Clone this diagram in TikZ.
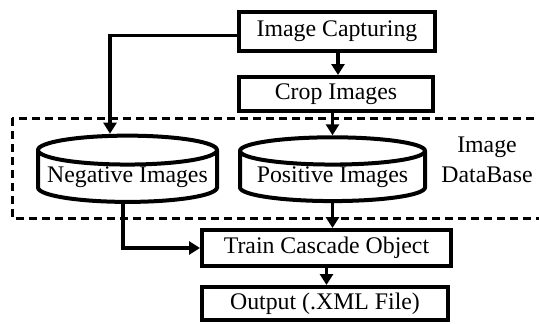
\documentclass[tikz,border=0pt]{standalone}
\usepackage{fontspec}
\setmainfont{Liberation Serif}
\usetikzlibrary{arrows.meta,shapes.geometric}

\begin{document}
\begin{tikzpicture}[
    x=1pt,
    y=-1pt,
    font=\fontsize{23.8}{30}\selectfont,
    box/.style={draw,line width=4pt,inner sep=0pt},
    db/.style={cylinder,shape border rotate=90,aspect=0.18,draw,line width=4pt,
      minimum width=179pt,minimum height=62pt,inner sep=0pt},
    flow/.style={line width=3.5pt,-{Triangle[length=11pt,width=13pt]}},
    frame/.style={line width=3pt,dash pattern=on 8pt off 5pt},
  ]
  \path[use as bounding box,clip] (0,0) rectangle (539,324);
  \node[box,minimum width=196pt,minimum height=39pt] (capture) at (337,31.5) {Image Capturing};
  \node[box,minimum width=194pt,minimum height=34pt] (crop) at (336,94) {Crop Images};
  \node[db] (neg) at (127.5,177) {Negative Images};
  \node[db,minimum width=185pt] (pos) at (332.5,177) {Positive Images};
  \node[align=center] (base) at (487,160) {Image\\DataBase};
  \node[box,minimum width=249pt,minimum height=36pt] (train) at (326.5,248) {Train Cascade Object};
  \node[box,minimum width=246pt,minimum height=33pt] (output) at (325,303.5) {Output (.XML File)};
  \draw[frame] (12,118) rectangle (550,218);
  \draw[flow] ([yshift=-4pt]capture.west) -| ([xshift=-17.5pt]neg.north);
  \draw[flow] ([xshift=1pt]capture.south) -- ([xshift=2pt]crop.north);
  \draw[flow] (crop.south -| pos.north) -- (pos.north);
  \draw[flow] ([xshift=-4.5pt]neg.south) |- (train.west);
  \draw[flow] (pos.south) -- (pos.south |- train.north);
  \draw[flow] (train.south) -- (train.south |- output.north);
\end{tikzpicture}
\end{document}
